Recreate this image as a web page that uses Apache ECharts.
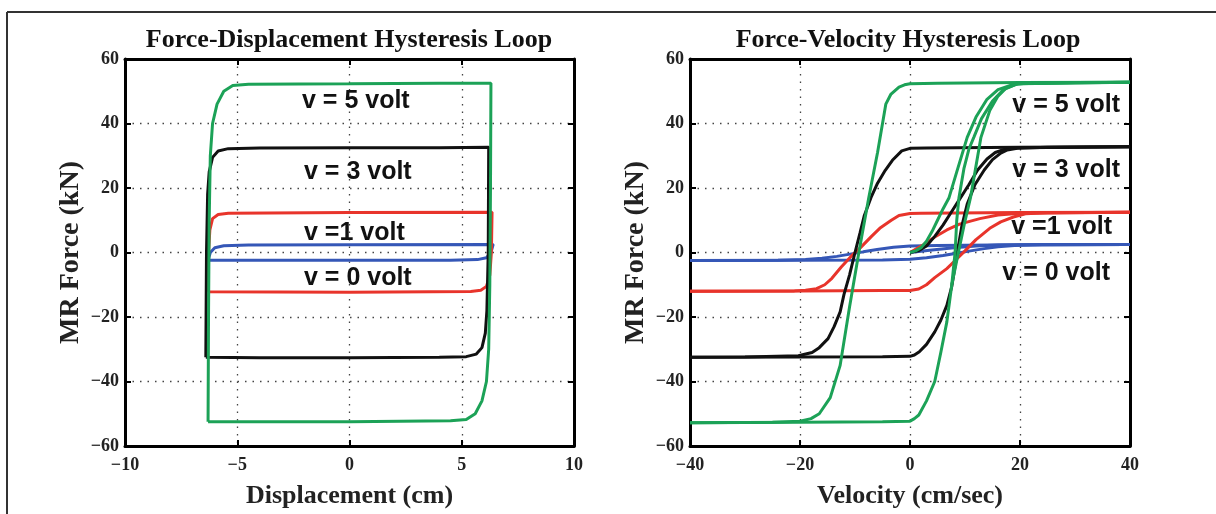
<!DOCTYPE html>
<html>
<head>
<meta charset="utf-8">
<script src="https://cdn.jsdelivr.net/npm/echarts@6/dist/echarts.min.js"></script>
<style>
  html, body { margin: 0; padding: 0; background: #fff; }
  #chart { width: 1216px; height: 514px; }
</style>
</head>
<body>
<div id="chart"></div>
<script>
// force-displacement loops: [displacement cm, force kN]
const fd0 = [[-6.3,-2.4],[-6.2,0],[-6.0,1.5],[-5.6,2.1],[-4.5,2.3],[0,2.4],[6.4,2.5],[6.3,0],[6.1,-1.6],[5.7,-2.2],[4.5,-2.4],[0,-2.4],[-6.3,-2.4]];
const fd1 = [[-6.3,-12.2],[-6.28,0],[-6.22,7],[-6.1,10.5],[-5.85,11.8],[-5.4,12.2],[0,12.4],[6.35,12.5],[6.32,0],[6.25,-7],[6.1,-10.5],[5.85,-11.7],[5.4,-12.1],[0,-12.3],[-6.3,-12.2]];
const fd3 = [[-6.4,-32.5],[-6.37,0],[-6.32,18],[-6.25,25],[-6.1,29.5],[-5.85,31.5],[-5.4,32.2],[-4,32.4],[0,32.5],[4,32.5],[6.2,32.6],[6.18,0],[6.12,-18],[6.05,-25],[5.9,-29.5],[5.65,-31.5],[5.2,-32.3],[4,-32.5],[0,-32.6],[-4,-32.6],[-6.4,-32.5]];
const fd5 = [[-6.3,-52.5],[-6.28,-20],[-6.25,10],[-6.2,30],[-6.1,40],[-5.9,46],[-5.6,50],[-5.2,51.8],[-4.5,52.2],[0,52.3],[4,52.5],[6.3,52.5],[6.28,20],[6.25,-10],[6.2,-30],[6.1,-40],[5.9,-46],[5.6,-50],[5.2,-51.8],[4.5,-52.2],[0,-52.5],[-4,-52.5],[-6.3,-52.5]];

// force-velocity branches: [velocity cm/sec, force kN]
const fv0Init = [[0,0],[4,0.8],[8,1.5],[12,2],[16,2.3],[20,2.4],[40,2.5]];
const fv0Down = [[40,2.5],[20,2.4],[5,2.2],[0,2],[-3,1.6],[-6,0.9],[-8.5,0.2],[-10.9,-0.5],[-13.3,-1.2],[-16,-1.8],[-19,-2.2],[-24,-2.4],[-40,-2.5]];
const fv0Up = [[-40,-2.5],[-20,-2.4],[-5,-2.3],[0,-2.1],[3,-1.6],[6,-0.9],[8.5,-0.2],[11,0.5],[13.5,1.2],[16,1.8],[19,2.2],[24,2.4],[40,2.5]];

const fv1Init = [[0,0],[1,1],[2.5,2.5],[4.5,4.8],[6.7,7],[9,8.8],[12.7,10.5],[16,11.6],[20,12.2],[40,12.5]];
const fv1Down = [[40,12.5],[20,12.4],[2,12.2],[0,12.1],[-2,11.5],[-3.4,10],[-5.5,7.5],[-7,5],[-9,1.5],[-10.6,-1],[-12.5,-4.5],[-14.2,-8],[-15.5,-10],[-17,-11.2],[-19,-11.7],[-21,-11.9],[-40,-12]];
const fv1Up = [[-40,-12],[-20,-11.9],[-5,-11.8],[0,-11.8],[1.6,-11.3],[3,-10],[4.5,-7.8],[6.7,-5],[8.5,-2],[10,0.5],[12,4],[14.5,7.5],[16.5,9.5],[18.8,11],[21,12],[25,12.3],[40,12.5]];

const fv3Init = [[0,0],[1.5,0.5],[3,2],[4.5,5],[6,8.5],[7.5,12.5],[9.2,17],[10.7,21],[12.3,25.6],[14,29],[15.5,31],[17.5,32.2],[20,32.5],[40,32.8]];
const fv3Down = [[40,32.8],[20,32.6],[3,32.4],[0,32.3],[-1.5,31.5],[-3.2,28.6],[-4.5,25.5],[-5.9,21.5],[-7.1,17],[-8.3,11.5],[-9.1,6],[-10,0],[-11,-7],[-12,-13],[-12.7,-18.4],[-13.8,-23],[-14.9,-26.7],[-16.5,-29.5],[-17.8,-31],[-20.3,-32],[-30,-32.4],[-40,-32.5]];
const fv3Up = [[-40,-32.5],[-20,-32.4],[-5,-32.3],[0,-32.2],[0.8,-31.8],[1.7,-30.8],[3,-28.5],[4.5,-24.6],[5.6,-21],[6.7,-16.4],[7.6,-10.5],[8.6,0],[9.4,8],[10.4,15],[11.8,21],[13.5,25.6],[15,28.8],[16.5,30.8],[17.7,31.8],[19.5,32.3],[25,32.6],[40,32.8]];

const fv5Init = [[0,0],[1,0.5],[2,1.5],[3,3.5],[4,6.5],[5,10],[6,13.5],[7.1,17],[8.5,25],[10.4,35.7],[12,42],[14,47.5],[16,50.5],[18.5,52],[21,52.5],[40,52.8]];
const fv5Down = [[40,52.8],[20,52.7],[5,52.5],[0,52.3],[-1,52],[-2,51.3],[-3.5,49],[-4.4,46],[-5.9,31],[-7.5,17],[-9.3,0],[-11,-17],[-12.7,-35],[-14.5,-45],[-16.5,-50],[-18,-51.5],[-20,-52.3],[-25,-52.6],[-40,-52.8]];
const fv5Up = [[-40,-52.8],[-20,-52.6],[-5,-52.5],[0,-52.3],[0.8,-51.5],[1.6,-50.4],[3,-46],[4.5,-40],[5.6,-31],[6.7,-21.5],[7.6,-10],[8.8,0],[9.9,9],[11,17],[12.9,35.7],[14.5,44],[16,48.5],[17.5,51],[19.5,52.3],[30,52.7],[40,52.8]];
const fv5Up2 = [[7.6,-10],[8.2,0],[8.5,10],[8.9,17],[9.8,26],[10.7,32],[11.6,35.7],[13,41.5],[15,47],[17,50.5],[19.5,52.3],[40,52.8]];

const colors = { v0: '#3557b7', v1: '#e8342b', v3: '#111111', v5: '#1ca257' };

const serif = '"Liberation Serif", "Times New Roman", serif';
const sans = '"Liberation Sans", Arial, sans-serif';
const minus = v => String(v).replace('-', '\u2212');

const labelStyle = { fontFamily: serif, fontWeight: 'bold', fontSize: 18, color: '#222' };
const nameStyle = { fontFamily: serif, fontWeight: 'bold', fontSize: 26, color: '#222' };
const boxLine = { show: true, onZero: false, lineStyle: { color: '#000', width: 3 } };
const tickIn = { show: true, inside: true, length: 6, lineStyle: { color: '#000', width: 2 } };
const dotted = { show: true, lineStyle: { color: '#444', type: [1.5, 6], width: 1.3 } };

function xPair(grid, min, max, interval, name) {
  return [
    { gridIndex: grid, type: 'value', position: 'bottom', min, max, interval,
      name, nameLocation: 'middle', nameGap: 37, nameTextStyle: nameStyle,
      axisLine: boxLine, axisTick: tickIn, splitLine: dotted,
      axisLabel: Object.assign({ margin: 10, formatter: minus }, labelStyle) },
    { gridIndex: grid, type: 'value', position: 'top', min, max, interval,
      axisLine: boxLine, axisTick: tickIn, splitLine: { show: false }, axisLabel: { show: false } }
  ];
}
function yPair(grid) {
  return [
    { gridIndex: grid, type: 'value', position: 'left', min: -60, max: 60, interval: 20,
      name: 'MR Force (kN)', nameLocation: 'middle', nameGap: 40,
      nameTextStyle: Object.assign({}, nameStyle, { fontSize: 28 }),
      axisLine: boxLine, axisTick: tickIn, splitLine: dotted,
      axisLabel: Object.assign({ margin: 6, formatter: minus }, labelStyle) },
    { gridIndex: grid, type: 'value', position: 'right', min: -60, max: 60, interval: 20,
      axisLine: boxLine, axisTick: tickIn, splitLine: { show: false }, axisLabel: { show: false } }
  ];
}

function loop(data, color, xi, yi) {
  return { type: 'line', data, xAxisIndex: xi, yAxisIndex: yi, showSymbol: false, symbol: 'none',
    smooth: false, animation: false, lineStyle: { color, width: 3 }, z: 3 };
}

function txt(text, x, y, font, align) {
  return { type: 'text', x, y, z: 10, style: { text, font, fill: '#111',
    textAlign: align || 'center', align: align || 'center', textVerticalAlign: 'middle', verticalAlign: 'middle' } };
}

const chart = echarts.init(document.getElementById('chart'), null, { renderer: 'canvas' });
const annFont = 'bold 25px ' + sans;
const titleFont = 'bold 26px ' + serif;

chart.setOption({
  animation: false,
  backgroundColor: '#fff',
  grid: [
    { left: 125, top: 59, width: 449, height: 396 },
    { left: 690, top: 59, width: 440, height: 396 }
  ],
  xAxis: xPair(0, -10, 10, 5, 'Displacement (cm)').concat(xPair(1, -40, 40, 20, 'Velocity (cm/sec)')),
  yAxis: yPair(0).concat(yPair(1)),
  series: [
    loop(fd0, colors.v0, 0, 0),
    loop(fd1, colors.v1, 0, 0),
    loop(fd3, colors.v3, 0, 0),
    loop(fd5, colors.v5, 0, 0),
    loop(fv0Init, colors.v0, 2, 2), loop(fv0Down, colors.v0, 2, 2), loop(fv0Up, colors.v0, 2, 2),
    loop(fv1Init, colors.v1, 2, 2), loop(fv1Down, colors.v1, 2, 2), loop(fv1Up, colors.v1, 2, 2),
    loop(fv3Init, colors.v3, 2, 2), loop(fv3Down, colors.v3, 2, 2), loop(fv3Up, colors.v3, 2, 2),
    loop(fv5Init, colors.v5, 2, 2), loop(fv5Down, colors.v5, 2, 2), loop(fv5Up, colors.v5, 2, 2),
    loop(fv5Up2, colors.v5, 2, 2)
  ],
  graphic: [
    { type: 'line', shape: { x1: 7, y1: 12, x2: 1216, y2: 12 }, style: { stroke: '#333', lineWidth: 2 } },
    { type: 'line', shape: { x1: 7, y1: 12, x2: 7, y2: 514 }, style: { stroke: '#333', lineWidth: 2 } },
    txt('Force-Displacement Hysteresis Loop', 349, 40, titleFont),
    txt('Force-Velocity Hysteresis Loop', 908, 40, titleFont),
    txt('v = 5 volt', 302, 101, annFont, 'left'),
    txt('v = 3 volt', 304, 172, annFont, 'left'),
    txt('v =1 volt', 304, 233, annFont, 'left'),
    txt('v = 0 volt', 304, 278, annFont, 'left'),
    txt('v = 5 volt', 1120, 105, annFont, 'right'),
    txt('v = 3 volt', 1120, 170, annFont, 'right'),
    txt('v =1 volt', 1112, 227, annFont, 'right'),
    txt('v = 0 volt', 1110, 273, annFont, 'right')
  ]
});
</script>
</body>
</html>
